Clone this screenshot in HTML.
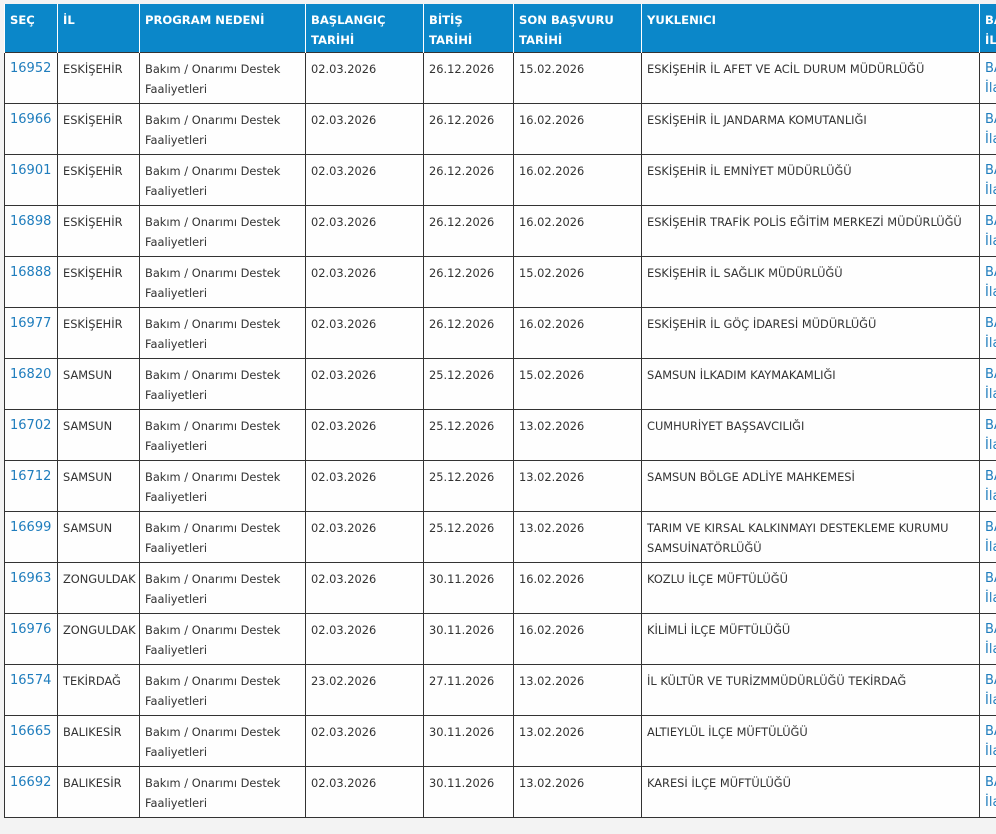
<!DOCTYPE html>
<html><head><meta charset="utf-8"><style>
html,body{margin:0;width:996px;height:834px;overflow:hidden;}
body{background:#f3f3f3;font-family:"DejaVu Sans","Liberation Sans",sans-serif;position:relative;}
#w{position:absolute;left:0;top:0;width:996px;height:834px;overflow:hidden;}
table{position:absolute;left:4px;top:4px;border-collapse:collapse;table-layout:fixed;width:1050px;}
th{background:#0b87c9;color:#fff;font-size:11.6px;font-weight:bold;text-align:left;vertical-align:top;padding:6px 5px 0 5px;height:42px;line-height:20px;border-left:1px solid #fff;}
td{background:rgba(255,255,255,0.85);font-size:11.4px;color:#333;vertical-align:top;padding:6px 5px 0 5px;height:44px;line-height:20px;border:1px solid #333;overflow:hidden;}
td.n{color:#1f7dbd;font-size:13px;}
td.l{color:#1f7dbd;font-size:13px;}
</style></head><body><div id="w">
<table>
<colgroup><col style="width:53px"><col style="width:82px"><col style="width:166px"><col style="width:118px"><col style="width:90px"><col style="width:128px"><col style="width:338px"><col style="width:75px"></colgroup>
<tr><th>SEÇ</th><th>İL</th><th>PROGRAM NEDENİ</th><th>BAŞLANGIÇ TARİHİ</th><th>BİTİŞ<br>TARİHİ</th><th>SON BAŞVURU TARİHİ</th><th>YUKLENICI</th><th>BAŞVURU İLANI</th></tr>
<tr><td class="n">16952</td><td>ESKİŞEHİR</td><td>Bakım / Onarımı Destek Faaliyetleri</td><td>02.03.2026</td><td>26.12.2026</td><td>15.02.2026</td><td>ESKİŞEHİR İL AFET VE ACİL DURUM MÜDÜRLÜĞÜ</td><td class="l">BAŞVURU İlanı</td></tr>
<tr><td class="n">16966</td><td>ESKİŞEHİR</td><td>Bakım / Onarımı Destek Faaliyetleri</td><td>02.03.2026</td><td>26.12.2026</td><td>16.02.2026</td><td>ESKİŞEHİR İL JANDARMA KOMUTANLIĞI</td><td class="l">BAŞVURU İlanı</td></tr>
<tr><td class="n">16901</td><td>ESKİŞEHİR</td><td>Bakım / Onarımı Destek Faaliyetleri</td><td>02.03.2026</td><td>26.12.2026</td><td>16.02.2026</td><td>ESKİŞEHİR İL EMNİYET MÜDÜRLÜĞÜ</td><td class="l">BAŞVURU İlanı</td></tr>
<tr><td class="n">16898</td><td>ESKİŞEHİR</td><td>Bakım / Onarımı Destek Faaliyetleri</td><td>02.03.2026</td><td>26.12.2026</td><td>16.02.2026</td><td>ESKİŞEHİR TRAFİK POLİS EĞİTİM MERKEZİ MÜDÜRLÜĞÜ</td><td class="l">BAŞVURU İlanı</td></tr>
<tr><td class="n">16888</td><td>ESKİŞEHİR</td><td>Bakım / Onarımı Destek Faaliyetleri</td><td>02.03.2026</td><td>26.12.2026</td><td>15.02.2026</td><td>ESKİŞEHİR İL SAĞLIK MÜDÜRLÜĞÜ</td><td class="l">BAŞVURU İlanı</td></tr>
<tr><td class="n">16977</td><td>ESKİŞEHİR</td><td>Bakım / Onarımı Destek Faaliyetleri</td><td>02.03.2026</td><td>26.12.2026</td><td>16.02.2026</td><td>ESKİŞEHİR İL GÖÇ İDARESİ MÜDÜRLÜĞÜ</td><td class="l">BAŞVURU İlanı</td></tr>
<tr><td class="n">16820</td><td>SAMSUN</td><td>Bakım / Onarımı Destek Faaliyetleri</td><td>02.03.2026</td><td>25.12.2026</td><td>15.02.2026</td><td>SAMSUN İLKADIM KAYMAKAMLIĞI</td><td class="l">BAŞVURU İlanı</td></tr>
<tr><td class="n">16702</td><td>SAMSUN</td><td>Bakım / Onarımı Destek Faaliyetleri</td><td>02.03.2026</td><td>25.12.2026</td><td>13.02.2026</td><td>CUMHURİYET BAŞSAVCILIĞI</td><td class="l">BAŞVURU İlanı</td></tr>
<tr><td class="n">16712</td><td>SAMSUN</td><td>Bakım / Onarımı Destek Faaliyetleri</td><td>02.03.2026</td><td>25.12.2026</td><td>13.02.2026</td><td>SAMSUN BÖLGE ADLİYE MAHKEMESİ</td><td class="l">BAŞVURU İlanı</td></tr>
<tr><td class="n">16699</td><td>SAMSUN</td><td>Bakım / Onarımı Destek Faaliyetleri</td><td>02.03.2026</td><td>25.12.2026</td><td>13.02.2026</td><td>TARIM VE KIRSAL KALKINMAYI DESTEKLEME KURUMU SAMSUİNATÖRLÜĞÜ</td><td class="l">BAŞVURU İlanı</td></tr>
<tr><td class="n">16963</td><td>ZONGULDAK</td><td>Bakım / Onarımı Destek Faaliyetleri</td><td>02.03.2026</td><td>30.11.2026</td><td>16.02.2026</td><td>KOZLU İLÇE MÜFTÜLÜĞÜ</td><td class="l">BAŞVURU İlanı</td></tr>
<tr><td class="n">16976</td><td>ZONGULDAK</td><td>Bakım / Onarımı Destek Faaliyetleri</td><td>02.03.2026</td><td>30.11.2026</td><td>16.02.2026</td><td>KİLİMLİ İLÇE MÜFTÜLÜĞÜ</td><td class="l">BAŞVURU İlanı</td></tr>
<tr><td class="n">16574</td><td>TEKİRDAĞ</td><td>Bakım / Onarımı Destek Faaliyetleri</td><td>23.02.2026</td><td>27.11.2026</td><td>13.02.2026</td><td>İL KÜLTÜR VE TURİZMMÜDÜRLÜĞÜ TEKİRDAĞ</td><td class="l">BAŞVURU İlanı</td></tr>
<tr><td class="n">16665</td><td>BALIKESİR</td><td>Bakım / Onarımı Destek Faaliyetleri</td><td>02.03.2026</td><td>30.11.2026</td><td>13.02.2026</td><td>ALTIEYLÜL İLÇE MÜFTÜLÜĞÜ</td><td class="l">BAŞVURU İlanı</td></tr>
<tr><td class="n">16692</td><td>BALIKESİR</td><td>Bakım / Onarımı Destek Faaliyetleri</td><td>02.03.2026</td><td>30.11.2026</td><td>13.02.2026</td><td>KARESİ İLÇE MÜFTÜLÜĞÜ</td><td class="l">BAŞVURU İlanı</td></tr>
</table>
</div></body></html>
